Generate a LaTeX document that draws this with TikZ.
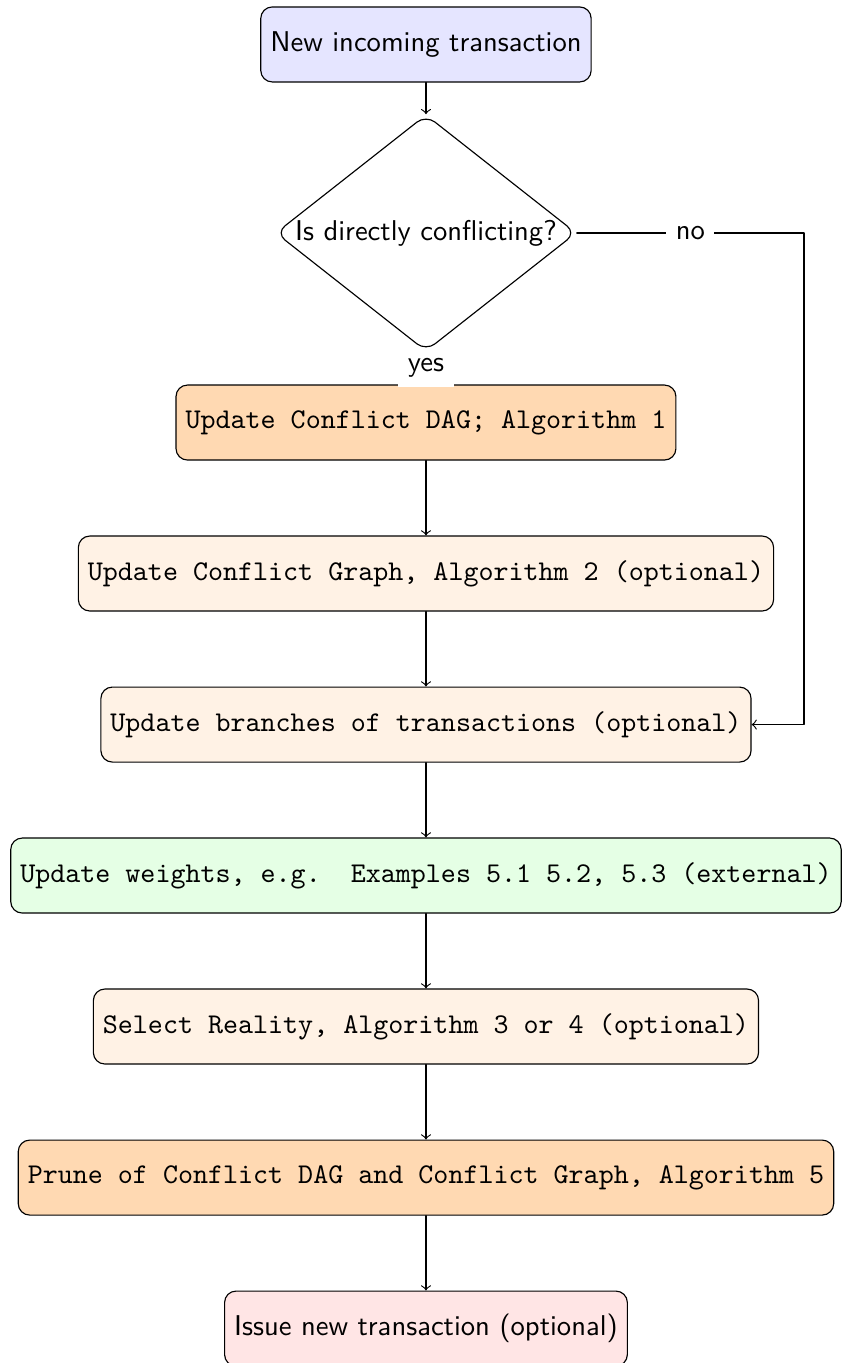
\documentclass[tikz,border=0pt]{standalone}
\usepackage{tikz}
\usetikzlibrary{shapes.geometric}

\begin{document}
\begin{tikzpicture}[line cap=round,line join=round,x=1.0cm,y=1.0cm,font=\sffamily,
    stepbase/.style={draw,rounded corners,minimum height=26.2pt,inner sep=3.333pt},
    startbox/.style={stepbase,fill=blue!10},
    procbox/.style={stepbase,fill=orange!10,font=\ttfamily},
    corebox/.style={stepbase,fill=orange!30,font=\ttfamily},
    extbox/.style={stepbase,fill=green!10,font=\ttfamily},
    endbox/.style={stepbase,fill=red!10},
    decision/.style={draw,diamond,rounded corners,aspect=1.27,inner sep=0pt,
      minimum width=105pt,minimum height=82.6pt},
    answer/.style={fill=white}]
                  \clip(-5.231,0) rectangle (5.121,-16.738);
                  \node[startbox] (incoming) at (0,-0.546) {New incoming transaction};
                  \node[decision] (conflicting) at (0,-2.861) {Is directly conflicting?};
                  \node[corebox] (dagupd) at (0,-5.189) {Update Conflict DAG; Algorithm 1};
                  \node[procbox] (graphupd) at (0,-7.043) {Update Conflict Graph, Algorithm 2 (optional)};
                  \node[procbox] (branchupd) at (0,-8.898) {Update branches of transactions (optional)};
                  \node[extbox] (weightupd) at (0,-10.752) {Update weights, e.g.\ \ Examples 5.1 5.2, 5.3 (external)};
                  \node[procbox] (reality) at (0,-12.606) {Select Reality, Algorithm 3 or 4 (optional)};
                  \node[corebox] (prune) at (0,-14.461) {Prune of Conflict DAG and Conflict Graph, Algorithm 5};
                  \node[endbox] (issue) at (0,-16.315) {Issue new transaction (optional)};
                  \coordinate (noturn) at (4.642,-2.861);
                  \draw [->] (incoming) -- (conflicting);
                  \draw [->] (conflicting) -- node[answer] {yes} (dagupd);
                  \draw [->] (conflicting) -- node[answer] {no} (noturn) |- (branchupd);
                  \draw [->] (dagupd) -- (graphupd);
                  \draw [->] (graphupd) -- (branchupd);
                  \draw [->] (branchupd) -- (weightupd);
                  \draw [->] (weightupd) -- (reality);
                  \draw [->] (reality) -- (prune);
                  \draw [->] (prune) -- (issue);
              \end{tikzpicture}
\end{document}
